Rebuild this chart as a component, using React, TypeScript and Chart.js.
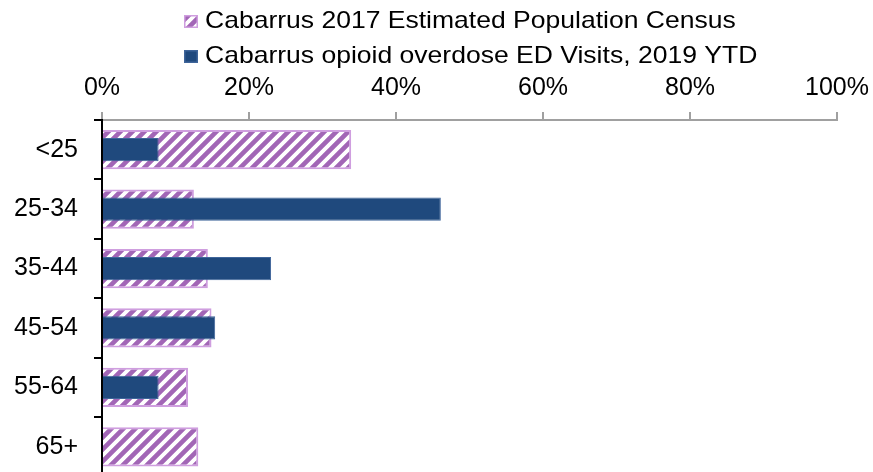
import React, { useEffect, useRef } from "react";
import { Chart, registerables } from "chart.js";

Chart.register(...registerables);

const categories = ["<25", "25-34", "35-44", "45-54", "55-64", "65+"];
const populationShare = [33.9, 12.5, 14.4, 14.9, 11.7, 13.1];
const edVisitShare = [7.7, 46.1, 23.0, 15.4, 7.7, 0];
const xTickValues = [0, 20, 40, 60, 80, 100];
const seriesLabels = [
  "Cabarrus 2017 Estimated Population Census",
  "Cabarrus opioid overdose ED Visits, 2019 YTD",
];

const FONT = "'Liberation Sans', Arial, sans-serif";
const NAVY = "#1F497D";
const STRIPE = "#A266B6";
const LAVENDER_BORDER = "#CF9EDF";

function makeHatch(): CanvasPattern | string {
  const c = document.createElement("canvas");
  const s = 12;
  c.width = s;
  c.height = s;
  const g = c.getContext("2d");
  if (!g) return STRIPE;
  g.fillStyle = "#FFFFFF";
  g.fillRect(0, 0, s, s);
  g.strokeStyle = STRIPE;
  g.lineWidth = 4.6;
  g.beginPath();
  g.moveTo(-s, s);
  g.lineTo(s, -s);
  g.moveTo(0, s);
  g.lineTo(s, 0);
  g.moveTo(0, 2 * s);
  g.lineTo(2 * s, 0);
  g.stroke();
  const p = g.createPattern(c, "repeat");
  return p || STRIPE;
}

export default function App() {
  const canvasRef = useRef<HTMLCanvasElement | null>(null);

  useEffect(() => {
    if (!canvasRef.current) return;
    const hatch = makeHatch();

    const legendPlugin = {
      id: "customLegend",
      afterDraw(chart: any) {
        const ctx = chart.ctx as CanvasRenderingContext2D;
        ctx.save();
        ctx.font = `24px ${FONT}`;
        ctx.textBaseline = "middle";
        ctx.textAlign = "left";
        const rowsY = [21.5, 56.5];
        const boxX = 184;
        const boxW = 14;
        const boxH = 13;
        chart.data.datasets.forEach((ds: any, i: number) => {
          const cy = rowsY[i];
          const by = cy - boxH / 2;
          ctx.fillStyle = ds.backgroundColor;
          ctx.fillRect(boxX, by, boxW, boxH);
          ctx.lineWidth = 1.5;
          ctx.strokeStyle = ds.borderColor;
          ctx.strokeRect(boxX + 0.75, by + 0.75, boxW - 1.5, boxH - 1.5);
          ctx.save();
          ctx.translate(205, cy);
          ctx.scale(1.105, 1);
          ctx.fillStyle = "#000000";
          ctx.fillText(ds.label, 0, 0);
          ctx.restore();
        });
        ctx.restore();
      },
    };

    const chart = new Chart(canvasRef.current, {
      type: "bar",
      data: {
        labels: categories,
        datasets: [
          {
            label: seriesLabels[0],
            data: populationShare,
            backgroundColor: hatch as any,
            borderColor: LAVENDER_BORDER,
            borderWidth: 2,
            barPercentage: 0.66,
            categoryPercentage: 1,
            grouped: false,
            order: 1,
          },
          {
            label: seriesLabels[1],
            data: edVisitShare,
            backgroundColor: NAVY,
            borderColor: "#3F659A",
            borderWidth: 1,
            barPercentage: 0.39,
            categoryPercentage: 1,
            grouped: false,
            order: 0,
          },
        ],
      },
      options: {
        indexAxis: "y",
        responsive: true,
        maintainAspectRatio: false,
        animation: false,
        layout: {
          padding: { top: 64, left: 0, right: 36, bottom: 3.5 },
        },
        plugins: {
          legend: { display: false },
          tooltip: { enabled: false },
          title: { display: false },
        },
        scales: {
          x: {
            position: "top",
            min: 0,
            max: 100,
            afterBuildTicks: (scale: any) => {
              scale.ticks = xTickValues.map((v) => ({ value: v }));
            },
            afterFit: (scale: any) => {
              scale.height = 56;
              scale.paddingLeft = 0;
              scale.paddingRight = 0;
            },
            ticks: {
              callback: (v: any) => `${v}%`,
              color: "#000000",
              font: { family: FONT, size: 25 },
              padding: 9,
              maxRotation: 0,
              autoSkip: false,
            },
            grid: {
              drawOnChartArea: false,
              drawTicks: true,
              tickLength: 8,
              color: "#A0A0A0",
              lineWidth: 2,
            },
            border: { display: true, color: "#A0A0A0", width: 2 },
          },
          y: {
            afterFit: (scale: any) => {
              scale.width = 102;
              scale.paddingTop = 0;
              scale.paddingBottom = 0;
            },
            ticks: {
              color: "#000000",
              font: { family: FONT, size: 25 },
              padding: 16,
              autoSkip: false,
            },
            grid: {
              drawOnChartArea: false,
              drawTicks: true,
              tickLength: 8,
              color: "#000000",
              lineWidth: 2,
              offset: true,
            },
            border: { display: true, color: "#000000", width: 2 },
          },
        },
      },
      plugins: [legendPlugin],
    });

    return () => chart.destroy();
  }, []);

  return (
    <div
      style={{
        position: "fixed",
        left: 0,
        top: 0,
        width: 873,
        height: 472,
        overflow: "hidden",
        background: "#FFFFFF",
      }}
    >
      <div style={{ position: "relative", width: 873, height: 480 }}>
        <canvas ref={canvasRef} />
      </div>
    </div>
  );
}
